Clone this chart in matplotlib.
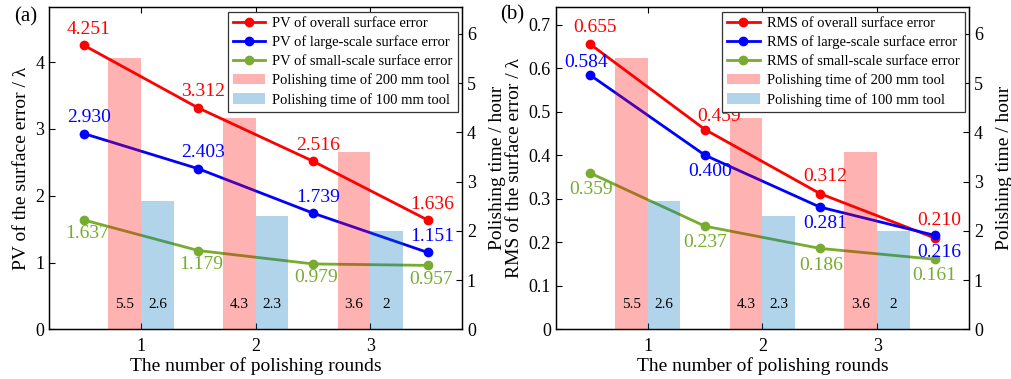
import matplotlib
matplotlib.use('Agg')
import matplotlib.pyplot as plt
import numpy as np

plt.rcParams['font.family'] = ['Liberation Serif', 'DejaVu Serif']
plt.rcParams['axes.linewidth'] = 0.9

# polishing rounds and the measurement stages between them
rounds = [1, 2, 3]
stages = [0.5, 1.5, 2.5, 3.5]

# polishing time (hours) of each tool per round
time_200 = [5.5, 4.3, 3.6]
time_100 = [2.6, 2.3, 2.0]
time_200_text = ['5.5', '4.3', '3.6']
time_100_text = ['2.6', '2.3', '2']

# surface error (in wavelengths) after each stage
pv_overall = [4.251, 3.312, 2.516, 1.636]
pv_large = [2.930, 2.403, 1.739, 1.151]
pv_small = [1.637, 1.179, 0.979, 0.957]
rms_overall = [0.655, 0.459, 0.312, 0.210]
rms_large = [0.584, 0.400, 0.281, 0.216]
rms_small = [0.359, 0.237, 0.186, 0.161]

RED = (1, 0, 0)
BLUE = (0, 0, 1)
GREEN = (0.466, 0.674, 0.188)
BAR_BLUE = (0, 0.447, 0.741)

# text offsets (pixels) of the value labels
off_a = [[(5, 16)] * 4,
         [(5, 16)] * 4,
         [(3, -14)] * 4]
off_b = [[(5, 17), (14, 13), (5, 17), (5, 17)],
         [(-4, 13), (5, -16), (5, -16), (5, -17)],
         [(1, -16), (0, -16), (1, -17), (0, -16)]]


def draw_panel(ax, series, names, offsets, ylim, yticks, ylabel, fmt):
    colors = [RED, BLUE, GREEN]
    handles = []
    for vals, name, col in zip(series, names, colors):
        h, = ax.plot(stages, vals, '-o', color=col, lw=2.0, ms=6, label=name)
        handles.append(h)
    ax.set_xlim(0.2, 3.8)
    ax.set_ylim(*ylim)
    ax.set_yticks(yticks)
    ax.set_xticks(rounds)
    ax.tick_params(axis='both', direction='in', labelsize=13, length=4)
    ax.tick_params(axis='x', top=True, pad=6)
    ax.set_xlabel('The number of polishing rounds', fontsize=14, labelpad=2)
    ax.set_ylabel(ylabel, fontsize=14, labelpad=4)

    # bars sit on a twin axis, semi-transparent over the curves
    ax2 = ax.twinx()
    w = 0.285
    x = np.array(rounds)
    b1 = ax2.bar(x - w / 2, time_200, w, color=RED, alpha=0.3, lw=0,
                 label='Polishing time of 200 mm tool')
    b2 = ax2.bar(x + w / 2, time_100, w, color=BAR_BLUE, alpha=0.3, lw=0,
                 label='Polishing time of 100 mm tool')
    for xi, t in zip(x - w / 2, time_200_text):
        ax2.text(xi, 0.5, t, ha='center', va='center', fontsize=11)
    for xi, t in zip(x + w / 2, time_100_text):
        ax2.text(xi, 0.5, t, ha='center', va='center', fontsize=11)
    ax2.set_ylim(0, 6.54)
    ax2.set_yticks(range(0, 7))
    ax2.tick_params(direction='in', labelsize=13, length=4)
    ax2.set_ylabel('Polishing time / hour', fontsize=14, labelpad=9)

    # value labels go on the top axis so the bars do not tint them
    for vals, col, offs in zip(series, colors, offsets):
        for xs, v, (dx, dy) in zip(stages, vals, offs):
            ax2.annotate(fmt % v, (xs, v), xycoords=ax.transData, xytext=(dx, dy),
                         textcoords='offset pixels', ha='center', va='center',
                         color=col, fontsize=14)

    leg = ax2.legend(handles + [b1, b2], names + [b1.get_label(), b2.get_label()],
                     loc='upper right', fontsize=10.5, fancybox=False, framealpha=1,
                     edgecolor='0.2', borderaxespad=0.3, labelspacing=0.38,
                     handlelength=2.2, handletextpad=0.5, borderpad=0.35)
    leg.get_frame().set_linewidth(0.9)
    leg.set_zorder(10)
    return ax2


fig = plt.figure(figsize=(10.11, 3.79), dpi=100)
ax_a = fig.add_axes([0.0488, 0.131, 0.4082, 0.850])
ax_b = fig.add_axes([0.5497, 0.131, 0.4088, 0.850])

draw_panel(ax_a, [pv_overall, pv_large, pv_small],
           ['PV of overall surface error', 'PV of large-scale surface error',
            'PV of small-scale surface error'],
           off_a, (0, 4.82), range(0, 5), 'PV of the surface error / λ', '%.3f')
draw_panel(ax_b, [rms_overall, rms_large, rms_small],
           ['RMS of overall surface error', 'RMS of large-scale surface error',
            'RMS of small-scale surface error'],
           off_b, (0, 0.74), np.arange(0, 0.71, 0.1), 'RMS of the surface error / λ', '%.3f')
ax_b.set_yticklabels(['0', '0.1', '0.2', '0.3', '0.4', '0.5', '0.6', '0.7'])

fig.text(0.014, 0.955, '(a)', fontsize=15, ha='left', va='center')
fig.text(0.495, 0.96, '(b)', fontsize=15, ha='left', va='center')

fig.savefig('out.png', dpi=100)
